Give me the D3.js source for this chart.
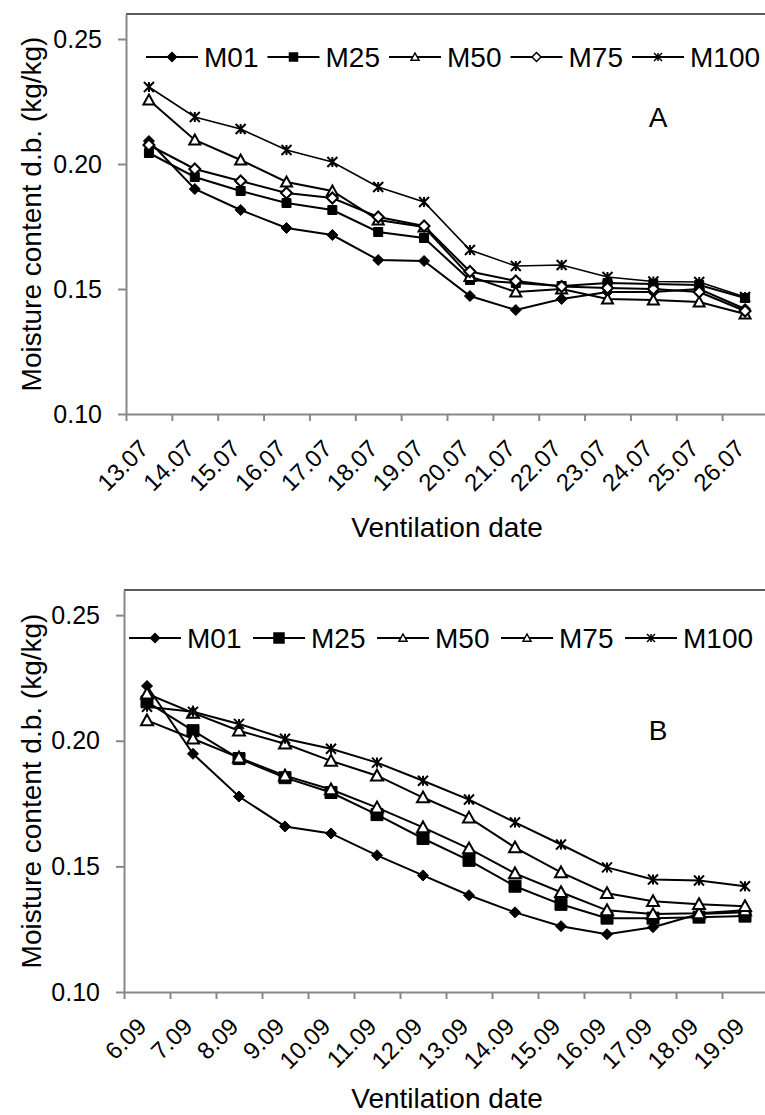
<!DOCTYPE html>
<html>
<head>
<meta charset="utf-8">
<script src="https://cdn.jsdelivr.net/npm/d3@7"></script>
<style>
  body { margin: 0; background: #fff; }
  svg { display: block; font-family: 'Liberation Sans', Arial, sans-serif; }
</style>
</head>
<body>
<svg id="chart"></svg>
<script>
// ---- data ----
const seriesNames = ['M01', 'M25', 'M50', 'M75', 'M100'];
const yTicks = [0.10, 0.15, 0.20, 0.25];

const datesA = ['13.07', '14.07', '15.07', '16.07', '17.07', '18.07', '19.07',
                '20.07', '21.07', '22.07', '23.07', '24.07', '25.07', '26.07'];
const m01A  = [0.2092, 0.1900, 0.1816, 0.1744, 0.1716, 0.1616, 0.1612, 0.1472, 0.1416, 0.1460, 0.1488, 0.1488, 0.1500, 0.1420];
const m25A  = [0.2044, 0.1948, 0.1892, 0.1844, 0.1816, 0.1728, 0.1704, 0.1536, 0.1524, 0.1512, 0.1524, 0.1520, 0.1516, 0.1464];
const m50A  = [0.2256, 0.2096, 0.2016, 0.1928, 0.1892, 0.1776, 0.1748, 0.1550, 0.1488, 0.1500, 0.1460, 0.1456, 0.1448, 0.1400];
const m75A  = [0.2076, 0.1980, 0.1932, 0.1884, 0.1864, 0.1788, 0.1752, 0.1570, 0.1532, 0.1510, 0.1504, 0.1500, 0.1488, 0.1412];
const m100A = [0.2308, 0.2188, 0.2140, 0.2056, 0.2008, 0.1908, 0.1848, 0.1656, 0.1592, 0.1596, 0.1548, 0.1530, 0.1528, 0.1468];

const datesB = ['6.09', '7.09', '8.09', '9.09', '10.09', '11.09', '12.09',
                '13.09', '14.09', '15.09', '16.09', '17.09', '18.09', '19.09'];
const m01B  = [0.2218, 0.1948, 0.1778, 0.1659, 0.1631, 0.1544, 0.1464, 0.1385, 0.1317, 0.1262, 0.1230, 0.1258, 0.1310, 0.1317];
const m25B  = [0.2155, 0.2040, 0.1929, 0.1853, 0.1794, 0.1706, 0.1611, 0.1524, 0.1421, 0.1349, 0.1294, 0.1294, 0.1298, 0.1302];
const m50B  = [0.2081, 0.2008, 0.1933, 0.1861, 0.1806, 0.1734, 0.1655, 0.1571, 0.1472, 0.1397, 0.1325, 0.1310, 0.1313, 0.1325];
const m75B  = [0.2187, 0.2111, 0.2040, 0.1988, 0.1920, 0.1861, 0.1774, 0.1694, 0.1575, 0.1476, 0.1393, 0.1361, 0.1349, 0.1341];
const m100B = [0.2135, 0.2115, 0.2067, 0.2008, 0.1968, 0.1913, 0.1841, 0.1766, 0.1675, 0.1587, 0.1496, 0.1448, 0.1444, 0.1421];

// marker shapes, excel style
function markerPath(type, s) {
  switch (type) {
    case 'diamond':
    case 'diamondOpen':
      return `M0,${-s}L${s},0L0,${s}L${-s},0Z`;
    case 'square':
      return `M${-s},${-s}H${s}V${s}H${-s}Z`;
    case 'triangle':
      return `M0,${-s}L${s},${s * 0.8}L${-s},${s * 0.8}Z`;
    case 'star':
      return `M${-s},${-s}L${s},${s}M${-s},${s}L${s},${-s}M0,${-s}V${s}`;
  }
}
function markerFill(type) {
  if (type == 'diamond' || type == 'square') return '#000';
  if (type == 'star') return 'none';
  return '#fff';
}

class MoistureChart {

  constructor(_config, _dates, _series) {
    this.config = _config;
    this.dates = _dates;
    this.series = _series;
    this.initVis();
  }

  initVis() {
    let vis = this;
    let c = vis.config;

    vis.g = d3.select('#chart').append('g');

    vis.xScale = d3.scaleBand()
        .domain(vis.dates)
        .range([c.left, c.right])
        .paddingInner(0);

    // tick marks sit on the category boundaries
    vis.xTickScale = d3.scaleLinear()
        .domain([0, vis.dates.length])
        .range([c.left, c.right]);

    vis.yScale = d3.scaleLinear()
        .domain([0.10, 0.26])
        .range([c.bottom, c.top]);

    // top frame line
    vis.g.append('line')
        .attr('x1', c.left).attr('x2', 765)
        .attr('y1', c.top).attr('y2', c.top)
        .attr('stroke', '#222')
        .attr('stroke-width', 1.5);

    // y axis
    vis.yAxisG = vis.g.append('g')
        .attr('transform', `translate(${c.left},0)`)
        .call(d3.axisLeft(vis.yScale)
            .tickValues(yTicks)
            .tickFormat(d3.format('.2f'))
            .tickSizeInner(8)
            .tickSizeOuter(0)
            .tickPadding(16));

    // x axis
    vis.xAxisG = vis.g.append('g')
        .attr('transform', `translate(0,${c.bottom})`)
        .call(d3.axisBottom(vis.xTickScale)
            .tickValues(d3.range(vis.dates.length + 1))
            .tickFormat('')
            .tickSizeInner(7)
            .tickSizeOuter(0));

    vis.g.selectAll('.domain, .tick line')
        .attr('stroke', '#888')
        .attr('stroke-width', 2);
    vis.yAxisG.selectAll('.tick text')
        .attr('fill', '#000')
        .style('font-size', '25px');

    // rotated date labels
    vis.g.selectAll('.date-label')
        .data(vis.dates)
        .join('text')
        .attr('class', 'date-label')
        .attr('text-anchor', 'end')
        .style('font-size', '24px')
        .attr('transform', d => `translate(${vis.xScale(d) + vis.xScale.bandwidth() / 2 + 1},${c.bottom + 36}) rotate(-45)`)
        .text(d => d);

    // axis titles
    vis.g.append('text')
        .attr('text-anchor', 'middle')
        .style('font-size', '28px')
        .attr('x', 447)
        .attr('y', c.xTitleY)
        .text('Ventilation date');

    vis.g.append('text')
        .attr('text-anchor', 'middle')
        .style('font-size', '28px')
        .attr('transform', `translate(41,${(c.top + c.bottom) / 2}) rotate(-90)`)
        .text('Moisture content d.b. (kg/kg)');

    // panel letter
    vis.g.append('text')
        .attr('text-anchor', 'middle')
        .style('font-size', '28px')
        .attr('x', 658)
        .attr('y', c.letterY)
        .text(c.letter);

    vis.renderLegend();
    vis.updateVis();
  }

  renderLegend() {
    let vis = this;
    let c = vis.config;

    let items = vis.g.selectAll('.legend-item')
        .data(seriesNames)
        .join('g')
        .attr('class', 'legend-item')
        .attr('transform', (d, i) => `translate(${c.legendX + i * c.legendStep},${c.legendY})`);

    items.append('line')
        .attr('x1', 0).attr('x2', 52)
        .attr('stroke', '#000')
        .attr('stroke-width', 2);

    items.append('path')
        .attr('transform', 'translate(26,0)')
        .attr('d', (d, i) => markerPath(c.markers[i], c.legendMarkerSize[i]))
        .attr('fill', (d, i) => markerFill(c.markers[i]))
        .attr('stroke', '#000')
        .attr('stroke-width', 1.5);

    items.append('text')
        .attr('x', 58)
        .attr('y', 10)
        .style('font-size', '28px')
        .text(d => d);
  }

  updateVis() {
    let vis = this;
    let c = vis.config;

    let xPos = i => vis.xScale(vis.dates[i]) + vis.xScale.bandwidth() / 2;

    vis.line = d3.line()
        .x((d, i) => xPos(i))
        .y(d => vis.yScale(d));

    vis.g.selectAll('.line')
        .data(vis.series)
        .join('path')
        .attr('class', 'line')
        .attr('fill', 'none')
        .attr('stroke', '#000')
        .attr('stroke-width', (d, i) => i == 4 && c.letter == 'A' ? 1.6 : 2)
        .attr('d', d => vis.line(d));

    vis.series.forEach((values, s) => {
      vis.g.selectAll('.dot-' + s)
          .data(values)
          .join('path')
          .attr('class', 'dot-' + s)
          .attr('transform', (d, i) => `translate(${xPos(i)},${vis.yScale(d)})`)
          .attr('d', markerPath(c.markers[s], c.markerSize[s]))
          .attr('fill', markerFill(c.markers[s]))
          .attr('stroke', '#000')
          .attr('stroke-width', c.markers[s] == 'diamond' || c.markers[s] == 'square' ? 1 : 2);
    });
  }
}

new MoistureChart({
  left: 126, right: 768, top: 14, bottom: 414,
  xTitleY: 537, letter: 'A', letterY: 127,
  legendX: 146, legendStep: 121.5, legendY: 57,
  markers: ['diamond', 'square', 'triangle', 'diamondOpen', 'star'],
  markerSize: [5.5, 4.5, 5.5, 5.5, 5],
  legendMarkerSize: [4.5, 4, 4, 4.5, 4]
}, datesA, [m01A, m25A, m50A, m75A, m100A]);

new MoistureChart({
  left: 124, right: 768, top: 590, bottom: 992,
  xTitleY: 1108, letter: 'B', letterY: 740,
  legendX: 129, legendStep: 124, legendY: 638,
  markers: ['diamond', 'square', 'triangle', 'triangle', 'star'],
  markerSize: [5.5, 6, 6, 6, 5],
  legendMarkerSize: [4.5, 5, 4, 4, 4]
}, datesB, [m01B, m25B, m50B, m75B, m100B]);

d3.select('#chart').attr('width', 765).attr('height', 1115);
</script>
</body>
</html>
